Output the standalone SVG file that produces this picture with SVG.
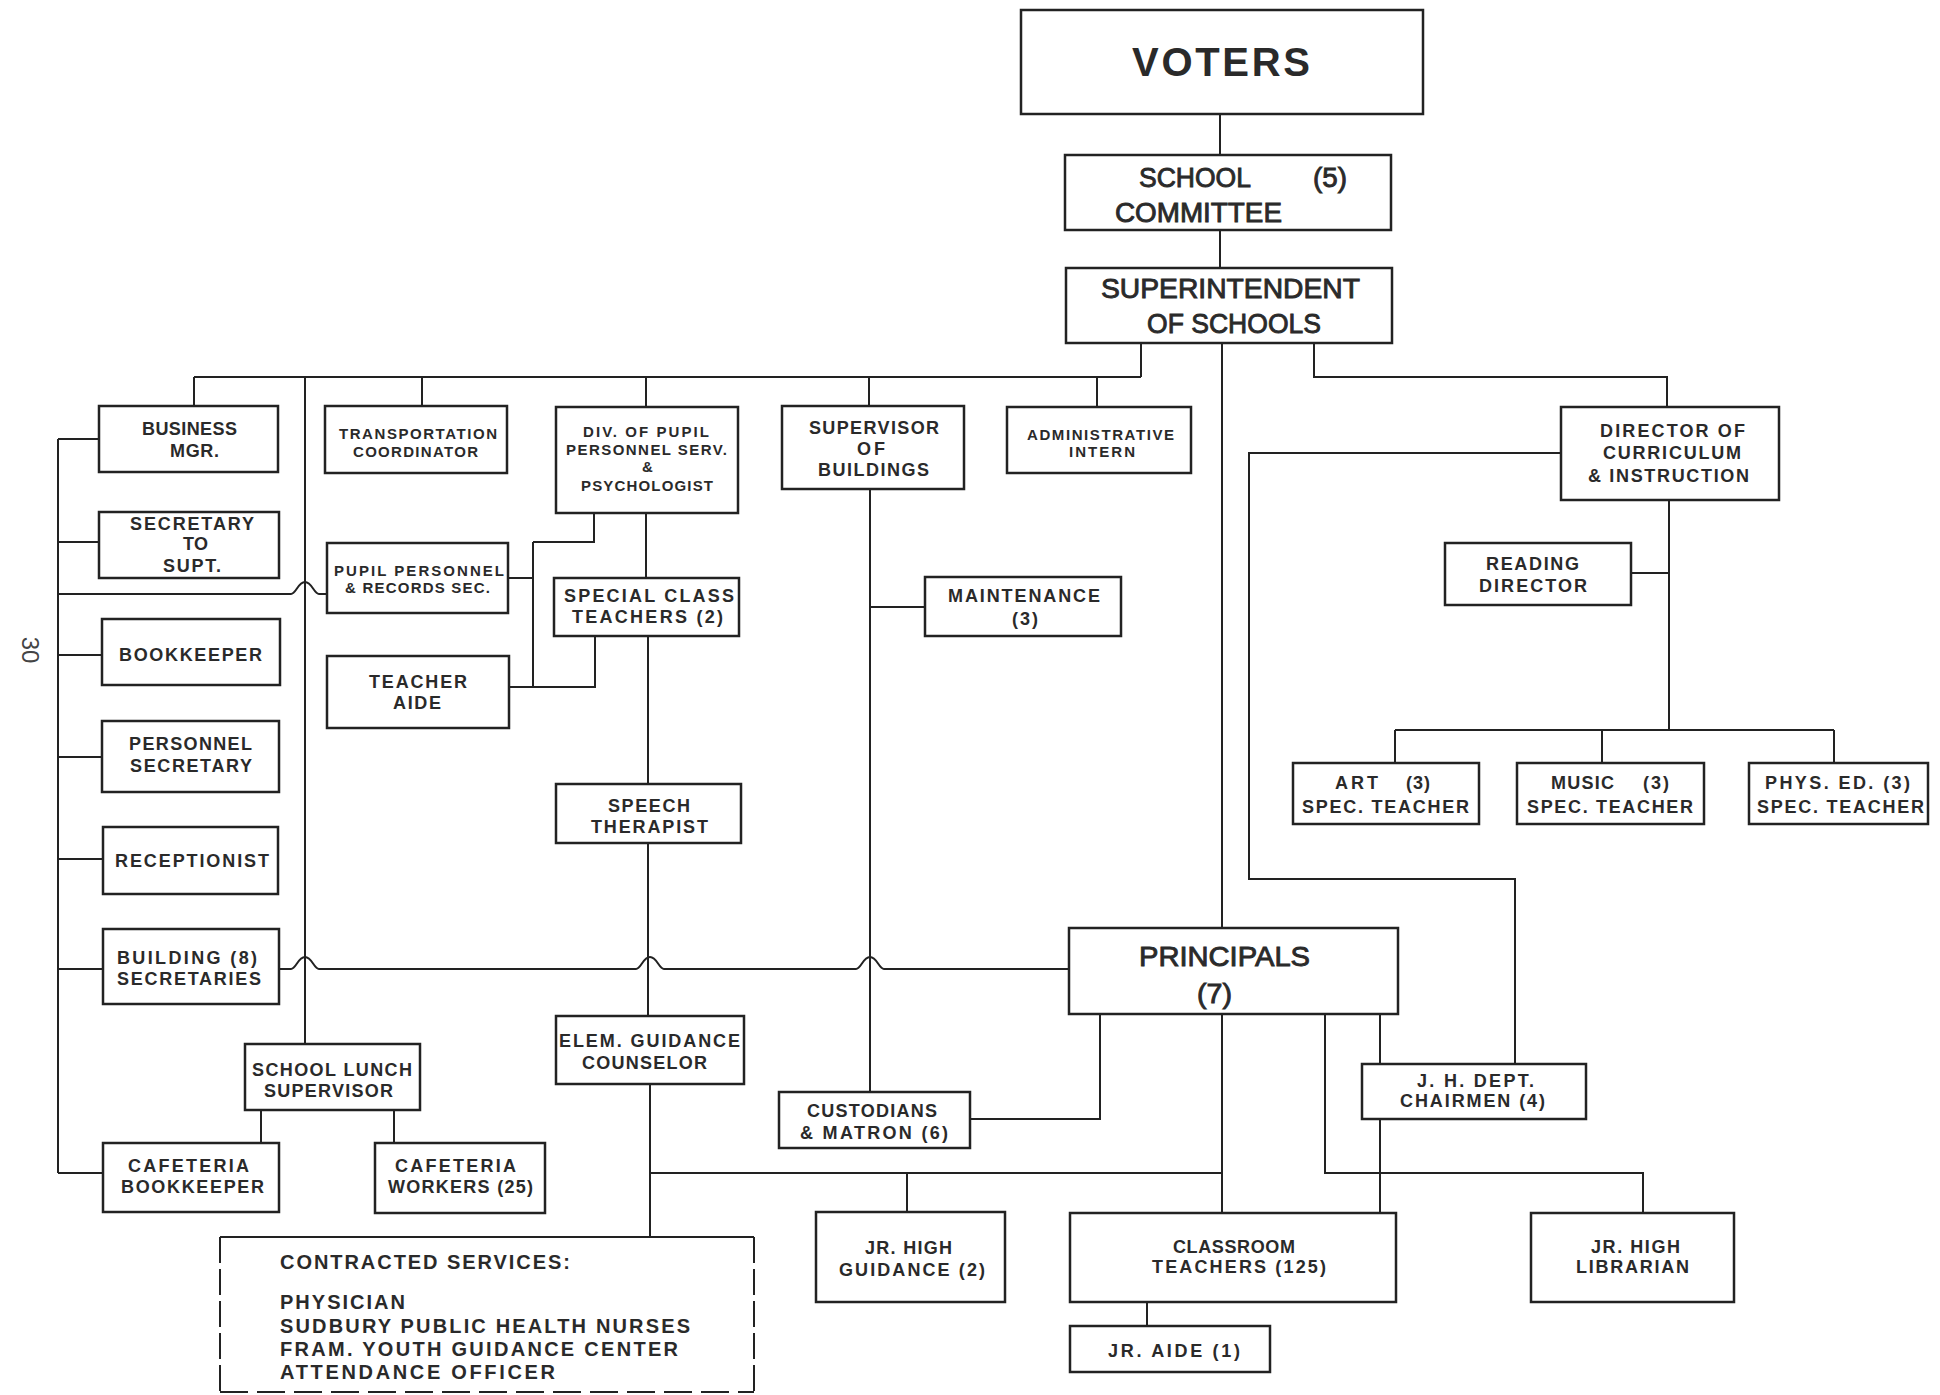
<svg xmlns="http://www.w3.org/2000/svg" width="1940" height="1395" viewBox="0 0 1940 1395">
<style>
.bx{fill:none;stroke:#222;stroke-width:2.5}
.ln{fill:none;stroke:#222;stroke-width:2}
text{fill:#2a2a2a;font-family:"Liberation Sans",Arial,sans-serif}
.b{font-size:18px;font-weight:bold}
.s{font-size:15px;font-weight:bold}
.c{font-family:"Liberation Sans Narrow","Liberation Sans",Arial,sans-serif;font-size:28px;stroke:#2a2a2a;stroke-width:0.9}
.v{font-size:40px;font-weight:bold}
.k{font-family:"Liberation Sans Narrow","Liberation Sans",Arial,sans-serif;font-size:20px;font-weight:bold}
.pg{font-size:24px;fill:#444}
</style>
<rect width="1940" height="1395" fill="#fff"/>
<g id="connectors">
<path class="ln" d="M1220,114V155M1220,230V268"/>
<path class="ln" d="M1141,343V377M194,377H1141"/>
<path class="ln" d="M194,377V406M305,377V1044M422,377V406M646,377V407M869,377V406M1097,377V407"/>
<path class="ln" d="M1222,343V928"/>
<path class="ln" d="M1314,343V377H1667V407"/>
<path class="ln" d="M1561,453H1249V879H1515V1064"/>
<path class="ln" d="M1669,500V730M1631,573H1669M1395,730H1834M1395,730V763M1602,730V763M1834,730V763"/>
<path class="ln" d="M58,439V1173M58,439H99M58,542H99M58,655H102M58,757H102M58,859H103M58,969H103M58,1173H103"/>
<path class="ln" d="M58,594H291C296,594 298,582 305,582C312,582 314,594 319,594H327"/>
<path class="ln" d="M279,969H291C296,969 298,957 305,957C312,957 314,969 319,969H636C641,969 643,957 650,957C657,957 659,969 664,969H856C861,969 863,957 870,957C877,957 879,969 884,969H1069"/>
<path class="ln" d="M594,513V542H533M533,542V687M508,578H533M509,687H595V636"/>
<path class="ln" d="M646,513V578M648,636V784M648,843V1016M650,1084V1237"/>
<path class="ln" d="M870,489V1092M870,607H925"/>
<path class="ln" d="M970,1119H1100V1014"/>
<path class="ln" d="M650,1173H1222M907,1173V1212M1222,1014V1213"/>
<path class="ln" d="M1325,1014V1173H1643V1213"/>
<path class="ln" d="M1380,1014V1064M1380,1119V1213"/>
<path class="ln" d="M1147,1302V1326"/>
<path class="ln" d="M261,1110V1143M394,1110V1143"/>
</g>
<g id="voters"><rect class="bx" x="1021" y="10" width="402" height="104" stroke-width="3"/><text class="v" x="1132" y="76" textLength="178">VOTERS</text></g>
<g id="committee"><rect class="bx" x="1065" y="155" width="326" height="75"/><text class="c" x="1139" y="187" textLength="112" lengthAdjust="spacingAndGlyphs">SCHOOL</text><text class="c" x="1313" y="187" textLength="34" lengthAdjust="spacingAndGlyphs">(5)</text><text class="c" x="1115" y="222" textLength="167" lengthAdjust="spacingAndGlyphs">COMMITTEE</text></g>
<g id="superintendent"><rect class="bx" x="1066" y="268" width="326" height="75"/><text class="c" x="1101" y="298" textLength="259" lengthAdjust="spacingAndGlyphs">SUPERINTENDENT</text><text class="c" x="1147" y="333" textLength="174" lengthAdjust="spacingAndGlyphs">OF SCHOOLS</text></g>
<g id="business-mgr"><rect class="bx" x="99" y="406" width="179" height="66"/><text class="b" x="142" y="435" textLength="95">BUSINESS</text><text class="b" x="170" y="457" textLength="49">MGR.</text></g>
<g id="transportation"><rect class="bx" x="325" y="406" width="182" height="67"/><text class="s" x="339" y="439" textLength="158">TRANSPORTATION</text><text class="s" x="353" y="457" textLength="125">COORDINATOR</text></g>
<g id="div-pupil"><rect class="bx" x="556" y="407" width="182" height="106"/><text class="s" x="583" y="437" textLength="126">DIV. OF PUPIL</text><text class="s" x="566" y="455" textLength="161">PERSONNEL SERV.</text><text class="s" x="642" y="472">&amp;</text><text class="s" x="581" y="491" textLength="132">PSYCHOLOGIST</text></g>
<g id="supervisor-buildings"><rect class="bx" x="782" y="406" width="182" height="83"/><text class="b" x="809" y="434" textLength="130">SUPERVISOR</text><text class="b" x="857" y="455" textLength="28">OF</text><text class="b" x="818" y="476" textLength="111">BUILDINGS</text></g>
<g id="admin-intern"><rect class="bx" x="1007" y="407" width="184" height="66"/><text class="s" x="1027" y="440" textLength="147">ADMINISTRATIVE</text><text class="s" x="1069" y="457" textLength="66">INTERN</text></g>
<g id="director-curriculum"><rect class="bx" x="1561" y="407" width="218" height="93"/><text class="b" x="1600" y="437" textLength="145">DIRECTOR OF</text><text class="b" x="1603" y="459" textLength="138">CURRICULUM</text><text class="b" x="1588" y="482" textLength="161">&amp; INSTRUCTION</text></g>
<g id="secretary-supt"><rect class="bx" x="99" y="512" width="180" height="66"/><text class="b" x="130" y="530" textLength="124">SECRETARY</text><text class="b" x="183" y="550" textLength="25">TO</text><text class="b" x="163" y="572" textLength="58">SUPT.</text></g>
<g id="pupil-records"><rect class="bx" x="327" y="543" width="181" height="70"/><text class="s" x="334" y="576" textLength="170">PUPIL PERSONNEL</text><text class="s" x="345" y="593" textLength="145">&amp; RECORDS SEC.</text></g>
<g id="special-class"><rect class="bx" x="554" y="578" width="185" height="58"/><text class="b" x="564" y="602" textLength="170">SPECIAL CLASS</text><text class="b" x="572" y="623" textLength="151">TEACHERS (2)</text></g>
<g id="maintenance"><rect class="bx" x="925" y="577" width="196" height="59"/><text class="b" x="948" y="602" textLength="152">MAINTENANCE</text><text class="b" x="1012" y="625" textLength="26">(3)</text></g>
<g id="reading-director"><rect class="bx" x="1445" y="543" width="186" height="62"/><text class="b" x="1486" y="570" textLength="93">READING</text><text class="b" x="1479" y="592" textLength="108">DIRECTOR</text></g>
<g id="bookkeeper"><rect class="bx" x="102" y="619" width="178" height="66"/><text class="b" x="119" y="661" textLength="143">BOOKKEEPER</text></g>
<g id="teacher-aide"><rect class="bx" x="327" y="656" width="182" height="72"/><text class="b" x="369" y="688" textLength="98">TEACHER</text><text class="b" x="393" y="709" textLength="48">AIDE</text></g>
<g id="personnel-secretary"><rect class="bx" x="102" y="721" width="177" height="71"/><text class="b" x="129" y="750" textLength="123">PERSONNEL</text><text class="b" x="130" y="772" textLength="122">SECRETARY</text></g>
<g id="art"><rect class="bx" x="1293" y="763" width="186" height="61"/><text class="b" x="1335" y="789" textLength="43">ART</text><text class="b" x="1406" y="789" textLength="24">(3)</text><text class="b" x="1302" y="813" textLength="167">SPEC. TEACHER</text></g>
<g id="music"><rect class="bx" x="1517" y="763" width="187" height="61"/><text class="b" x="1551" y="789" textLength="63">MUSIC</text><text class="b" x="1643" y="789" textLength="26">(3)</text><text class="b" x="1527" y="813" textLength="166">SPEC. TEACHER</text></g>
<g id="phys-ed"><rect class="bx" x="1749" y="763" width="179" height="61"/><text class="b" x="1765" y="789" textLength="145">PHYS. ED. (3)</text><text class="b" x="1757" y="813" textLength="167">SPEC. TEACHER</text></g>
<g id="speech-therapist"><rect class="bx" x="556" y="784" width="185" height="59"/><text class="b" x="608" y="812" textLength="82">SPEECH</text><text class="b" x="591" y="833" textLength="117">THERAPIST</text></g>
<g id="receptionist"><rect class="bx" x="103" y="827" width="175" height="67"/><text class="b" x="115" y="867" textLength="154">RECEPTIONIST</text></g>
<g id="building-secretaries"><rect class="bx" x="103" y="929" width="176" height="75"/><text class="b" x="117" y="964" textLength="140">BUILDING (8)</text><text class="b" x="117" y="985" textLength="144">SECRETARIES</text></g>
<g id="principals"><rect class="bx" x="1069" y="928" width="329" height="86"/><text class="c" x="1139" y="966" textLength="171" lengthAdjust="spacingAndGlyphs">PRINCIPALS</text><text class="c" x="1197" y="1003" textLength="35" lengthAdjust="spacingAndGlyphs">(7)</text></g>
<g id="elem-guidance"><rect class="bx" x="556" y="1016" width="188" height="68"/><text class="b" x="559" y="1047" textLength="181">ELEM. GUIDANCE</text><text class="b" x="582" y="1069" textLength="125">COUNSELOR</text></g>
<g id="school-lunch"><rect class="bx" x="245" y="1044" width="175" height="66"/><text class="b" x="252" y="1076" textLength="160">SCHOOL LUNCH</text><text class="b" x="264" y="1097" textLength="129">SUPERVISOR</text></g>
<g id="jh-dept"><rect class="bx" x="1362" y="1064" width="224" height="55"/><text class="b" x="1417" y="1087" textLength="117">J. H. DEPT.</text><text class="b" x="1400" y="1107" textLength="145">CHAIRMEN (4)</text></g>
<g id="custodians"><rect class="bx" x="779" y="1092" width="191" height="56"/><text class="b" x="807" y="1117" textLength="130">CUSTODIANS</text><text class="b" x="800" y="1139" textLength="148">&amp; MATRON (6)</text></g>
<g id="cafeteria-bookkeeper"><rect class="bx" x="103" y="1143" width="176" height="69"/><text class="b" x="128" y="1172" textLength="121">CAFETERIA</text><text class="b" x="121" y="1193" textLength="143">BOOKKEEPER</text></g>
<g id="cafeteria-workers"><rect class="bx" x="375" y="1143" width="170" height="70"/><text class="b" x="395" y="1172" textLength="121">CAFETERIA</text><text class="b" x="388" y="1193" textLength="145">WORKERS (25)</text></g>
<g id="contracted-services"><path class="ln" d="M220,1237H754"/><path class="ln" d="M220,1237V1393M754,1237V1393" stroke-dasharray="26 6"/><path class="ln" d="M220,1392H754" stroke-width="4" stroke-dasharray="28 9"/><text class="k" x="280" y="1269" textLength="290">CONTRACTED SERVICES:</text><text class="k" x="280" y="1309" textLength="125">PHYSICIAN</text><text class="k" x="280" y="1333" textLength="410">SUDBURY PUBLIC HEALTH NURSES</text><text class="k" x="280" y="1356" textLength="398">FRAM. YOUTH GUIDANCE CENTER</text><text class="k" x="280" y="1379" textLength="275">ATTENDANCE OFFICER</text></g>
<g id="jr-high-guidance"><rect class="bx" x="816" y="1212" width="189" height="90"/><text class="b" x="865" y="1254" textLength="87">JR. HIGH</text><text class="b" x="839" y="1276" textLength="146">GUIDANCE (2)</text></g>
<g id="classroom-teachers"><rect class="bx" x="1070" y="1213" width="326" height="89"/><text class="b" x="1173" y="1253" textLength="122">CLASSROOM</text><text class="b" x="1152" y="1273" textLength="174">TEACHERS (125)</text></g>
<g id="jr-high-librarian"><rect class="bx" x="1531" y="1213" width="203" height="89"/><text class="b" x="1591" y="1253" textLength="89">JR. HIGH</text><text class="b" x="1576" y="1273" textLength="113">LIBRARIAN</text></g>
<g id="jr-aide"><rect class="bx" x="1070" y="1326" width="200" height="46"/><text class="b" x="1108" y="1357" textLength="132">JR. AIDE (1)</text></g>
<text class="pg" transform="translate(22,650) rotate(90)" text-anchor="middle">30</text>
</svg>
